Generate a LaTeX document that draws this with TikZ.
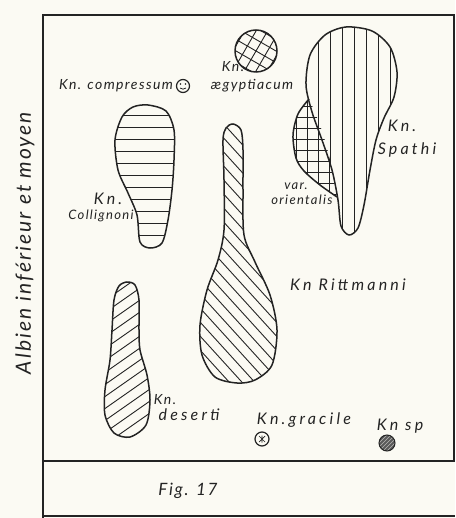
\documentclass[tikz,border=0pt]{standalone}
\usepackage{fontspec}
\setmainfont{Lato}
\newfontfamily\handwide{Lato Italic}[LetterSpace=20]
\newfontfamily\handmid{Lato Italic}[LetterSpace=10]
\definecolor{ink}{RGB}{35,35,35}
\definecolor{paper}{RGB}{251,250,243}
\begin{document}
\begin{tikzpicture}[x=1pt,y=-1pt,
  outline/.style={draw=ink,line width=1.5pt},
  hatch/.style={draw=ink,line width=0.9pt},
  frameline/.style={draw=ink,line width=2pt},
  lbl/.style={font=\fontsize{16}{17}\handwide,text=ink,inner sep=0pt},
  midlbl/.style={font=\fontsize{14}{15}\handmid,text=ink,inner sep=0pt},
  smalllbl/.style={font=\fontsize{13}{14}\handmid,text=ink,inner sep=0pt},
  figlbl/.style={font=\fontsize{17}{18}\handmid,text=ink,inner sep=0pt},
  sidelbl/.style={font=\fontsize{21}{22}\handmid,text=ink,inner sep=0pt}]
\fill[paper] (0,0) rectangle (455,518);
\useasboundingbox (0,0) rectangle (455,518);
% frame
\draw[frameline] (43,518) -- (43,15) -- (454,15) -- (454,461);
\draw[frameline] (43,461) -- (455,461);
\draw[frameline] (43,516) -- (455,516);
\node[sidelbl,rotate=90] (albien) at (25,243) {Albien inférieur et moyen};
% ---- Kn. aegyptiacum
\begin{scope}
\clip (256,51) circle (21);
\foreach \d in {-30,-20,...,30}{
  \draw[hatch,rotate around={60:(256,51)}] (256+\d,20) -- (256+\d,82);
  \draw[hatch,rotate around={60:(256,51)}] (220,51+\d) -- (292,51+\d);
}
\end{scope}
\draw[outline] (256,51) circle (21);
\node[midlbl] (aegkn) at (233,67) {Kn.};
\node[midlbl] (aegname) at (252,86) {ægyptiacum};
% ---- Kn. compressum
\draw[outline,line width=1.2pt] (183,86) circle (6.5);
\fill[ink] (180.5,84) circle (0.9) (185.5,84) circle (0.9);
\draw[ink,line width=0.8pt] (180,88) to[bend right=40] (186,88);
\node[midlbl] (comp) at (116,86) {Kn. compressum};
% ---- var. orientalis
\begin{scope}
\clip plot[smooth] coordinates {(309,99) (298,114) (293,135) (296,158) (304,171) (320,185) (337,197)} to[out=100,in=-65] (309,99);
\foreach \y in {106,117,...,200} \draw[hatch] (285,\y) -- (345,\y);
\foreach \x in {296,307,...,340} \draw[hatch] (\x,95) -- (\x,200);
\end{scope}
\draw[outline] plot[smooth] coordinates {(309,99) (298,114) (293,135) (296,158) (304,171) (320,185) (337,197)};
% ---- Kn. Spathi
\begin{scope}
\clip plot[smooth cycle] coordinates {(346,27) (372,31) (390,47) (397,72) (394,97) (384,118) (376,140) (370,170) (364,205) (358,228) (349,235) (341,226) (338,200) (332,170) (322,140) (312,112) (306,85) (310,55) (325,35)};
\foreach \x in {318,330,...,395} \draw[hatch] (\x,20) -- (\x,240);
\end{scope}
\draw[outline] plot[smooth cycle] coordinates {(346,27) (372,31) (390,47) (397,72) (394,97) (384,118) (376,140) (370,170) (364,205) (358,228) (349,235) (341,226) (338,200) (332,170) (322,140) (312,112) (306,85) (310,55) (325,35)};
\node[lbl] (spkn) at (402,126) {Kn.};
\node[lbl] (spname) at (407,150) {Spathi};
\node[smalllbl] (var) at (296,186) {var.};
\node[smalllbl] (orient) at (302,200) {orientalis};
% ---- Kn. Collignoni
\begin{scope}
\clip plot[smooth cycle] coordinates {(148,105) (166,111) (174,130) (174,160) (172,190) (168,220) (162,243) (150,248) (140,242) (137,215) (128,193) (118,170) (115,140) (122,117) (133,107)};
\foreach \y in {115,127,...,245} \draw[hatch] (110,\y) -- (180,\y);
\end{scope}
\draw[outline] plot[smooth cycle] coordinates {(148,105) (166,111) (174,130) (174,160) (172,190) (168,220) (162,243) (150,248) (140,242) (137,215) (128,193) (118,170) (115,140) (122,117) (133,107)};
\node[lbl] (colkn) at (108,199) {Kn.};
\node[smalllbl] (colname) at (101,216) {Collignoni};
% ---- Kn. Rittmanni
\begin{scope}
\clip plot[smooth cycle] coordinates {(233,124) (241,130) (243,150) (243,190) (244,235) (255,262) (270,295) (277,330) (272,365) (255,380) (237,383) (215,377) (202,355) (200,325) (207,290) (218,260) (224,230) (224,180) (223,140) (226,128)};
\foreach \c in {-150,-136,...,170} \draw[hatch] (190,190*1.1+\c) -- (290,290*1.1+\c);
\end{scope}
\draw[outline] plot[smooth cycle] coordinates {(233,124) (241,130) (243,150) (243,190) (244,235) (255,262) (270,295) (277,330) (272,365) (255,380) (237,383) (215,377) (202,355) (200,325) (207,290) (218,260) (224,230) (224,180) (223,140) (226,128)};
\node[lbl] (ritt) at (348,285) {Kn Rittmanni};
% ---- Kn. deserti
\begin{scope}
\clip plot[smooth cycle] coordinates {(127,282) (135,285) (139,300) (139,330) (140,350) (147,375) (150,400) (146,425) (130,437) (114,433) (105,415) (105,390) (110,360) (112,330) (114,300) (119,286)};
\foreach \c in {290,302,...,560} \draw[hatch] (95,-0.7*95+\c) -- (160,-0.7*160+\c);
\end{scope}
\draw[outline] plot[smooth cycle] coordinates {(127,282) (135,285) (139,300) (139,330) (140,350) (147,375) (150,400) (146,425) (130,437) (114,433) (105,415) (105,390) (110,360) (112,330) (114,300) (119,286)};
\node[midlbl] (deskn) at (165,400) {Kn.};
\node[lbl] (desname) at (189,415) {deserti};
% ---- Kn. gracile
\draw[outline,line width=1.2pt] (262,439) circle (7);
\draw[ink,line width=0.7pt] (259,436) -- (265,442) (265,436) -- (259,442) (262,435.5) -- (262,442.5);
\node[lbl] (grac) at (304,420) {Kn.gracile};
% ---- Kn sp
\fill[ink!75] (387,443) circle (8);
\begin{scope}
\clip (387,443) circle (8);
\foreach \c in {-8,-4,...,8} \draw[paper!70!ink,line width=0.6pt] (379,451+\c) -- (395,435+\c);
\end{scope}
\draw[ink,line width=1pt] (387,443) circle (8);
\node[lbl] (sp) at (400,426) {Kn sp};
% caption
\node[figlbl] (fig) at (188,491) {Fig. 17};
\end{tikzpicture}
\end{document}
